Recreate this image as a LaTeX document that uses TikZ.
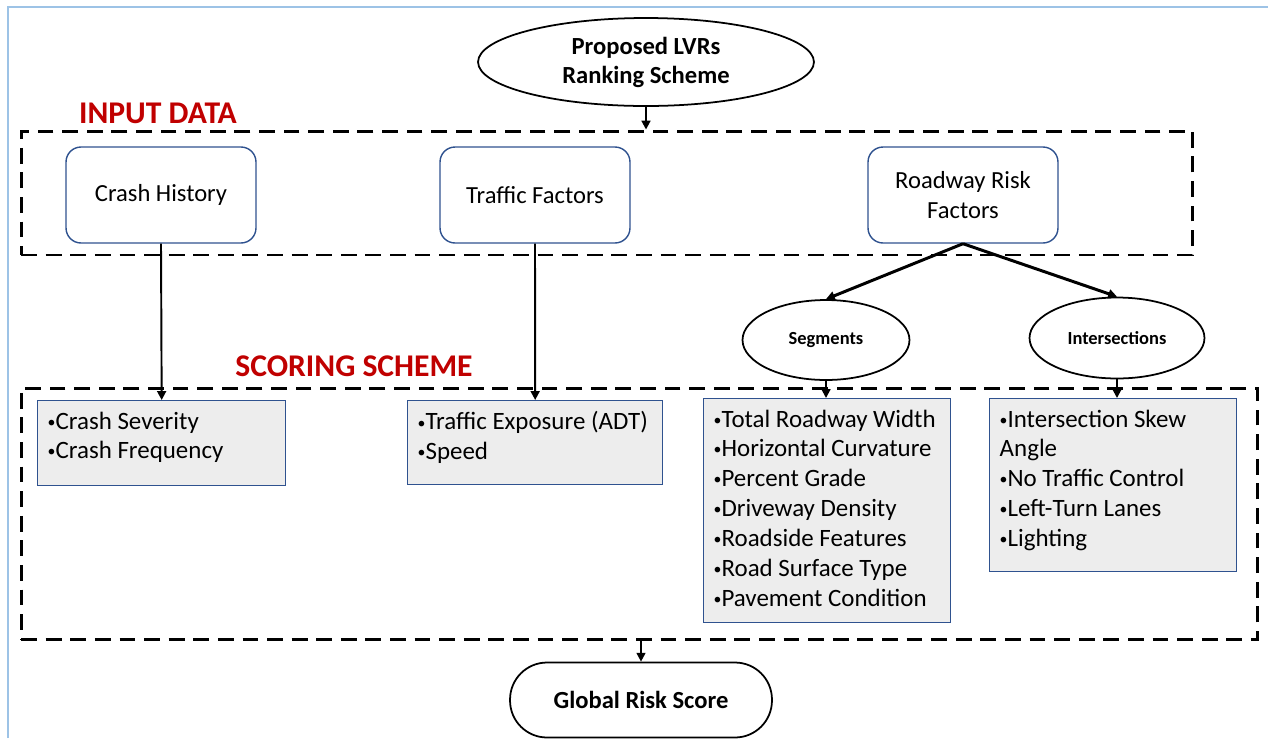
\documentclass[tikz,border=0pt]{standalone}
\usepackage{fontspec}
\setmainfont{Carlito}
\usetikzlibrary{positioning, arrows.meta, shapes.geometric}
\definecolor{headred}{RGB}{192,0,0}
\definecolor{boxblue}{RGB}{47,82,143}
\definecolor{listgray}{RGB}{237,237,237}
\definecolor{frameblue}{RGB}{157,195,230}
\newcommand{\itemcol}[3]{\parbox[c][#2][t]{#1}{\raggedright #3}}
\newcommand{\bul}{\raisebox{1.1pt}{\fontsize{9}{9}\selectfont•}}

\begin{document}
\begin{tikzpicture}[x=0.02cm, y=-0.02cm,
  ovalb/.style={draw, ellipse, line width=1pt, inner sep=0pt, align=center,
                font=\fontsize{14}{16.5}\selectfont\bfseries},
  subb/.style={draw, ellipse, line width=1pt, inner sep=0pt,
               font=\fontsize{10.5}{12}\selectfont\bfseries},
  catb/.style={draw=boxblue, line width=0.8pt, rounded corners=0.3cm,
               minimum width=3.8cm, minimum height=1.92cm, align=center,
               font=\fontsize{14}{17}\selectfont},
  listb/.style={draw=boxblue, line width=0.8pt, fill=listgray, anchor=north west,
                inner xsep=0.2cm, inner ysep=0.22cm, font=\fontsize{14.2}{17}\selectfont},
  areab/.style={draw, dash pattern=on 9pt off 5pt, line width=1.7pt, inner sep=0pt},
  termb/.style={draw, line width=1pt, rounded corners=0.74cm,
                minimum width=5.24cm, minimum height=1.5cm,
                font=\fontsize{14}{17}\selectfont\bfseries},
  headl/.style={text=headred, font=\fontsize{18}{20}\selectfont\bfseries},
  arr/.style={-{Triangle[length=5pt, width=5pt]}, line width=1.1pt},
]
\useasboundingbox (0,0) rectangle (1268,738);

% Frame
\draw[frameblue, line width=0.8pt] (8,738) -- (8,7) -- (1268,7);

% Dashed areas
\node[areab, minimum width=23.44cm, minimum height=2.48cm] (inbox) at (607,193) {};
\node[areab, minimum width=24.74cm, minimum height=5.04cm] (scorebox) at (639.5,514) {};

% Area labels
\node[headl] (inlbl) at (158,113) {INPUT DATA};
\node[headl] (scorelbl) at (354,366) {SCORING SCHEME};

% Start
\node[ovalb, minimum width=6.72cm, minimum height=1.76cm] (lvr) at (646,62)
  {Proposed LVRs\\Ranking Scheme};

% Input categories
\node[catb] (crash)    at (161,195) {Crash History};
\node[catb] (traffic)  at (535,195) {Traffic Factors};
\node[catb] (roadrisk) at (963,195) {Roadway Risk\\Factors};

% Roadway sub-groups
\node[subb, minimum width=3.34cm, minimum height=1.6cm]  (seg)   at (826,340)  {Segments};
\node[subb, minimum width=3.5cm,  minimum height=1.62cm] (inter) at (1117,338) {Intersections};

% Scoring lists
\node[listb] (crashlist) at (37,400)
  {\itemcol{4.56cm}{1.26cm}{\bul Crash Severity\\\bul Crash Frequency}};
\node[listb] (trafficlist) at (407,400)
  {\itemcol{4.7cm}{1.24cm}{\bul Traffic Exposure (ADT)\\\bul Speed}};
\node[listb] (seglist) at (703,398)
  {\itemcol{4.54cm}{4.04cm}{\bul Total Roadway Width\\\bul Horizontal Curvature\\
   \bul Percent Grade\\\bul Driveway Density\\\bul Roadside Features\\
   \bul Road Surface Type\\\bul Pavement Condition}};
\node[listb] (interlist) at (989,398)
  {\itemcol{4.54cm}{3.02cm}{\bul Intersection Skew\\Angle\\\bul No Traffic Control\\
   \bul Left-Turn Lanes\\\bul Lighting}};

% Result
\node[termb] (grs) at (641,700) {Global Risk Score};

% Arrows
\draw[arr] (lvr.south) -- (lvr.south |- inbox.north);
\draw[arr] (crash.south) -- (crashlist.north);
\draw[arr] (traffic.south) -- (trafficlist.north);
\draw[arr, line width=1.7pt] (roadrisk.south) -- (seg.north);
\draw[arr, line width=1.7pt] (roadrisk.south) -- (inter.north);
\draw[arr] (seg.south) -- (seg.south |- seglist.north);
\draw[arr] (inter.south) -- (inter.south |- interlist.north);
\draw[arr] (grs.north |- scorebox.south) -- (grs.north);

\end{tikzpicture}
\end{document}
